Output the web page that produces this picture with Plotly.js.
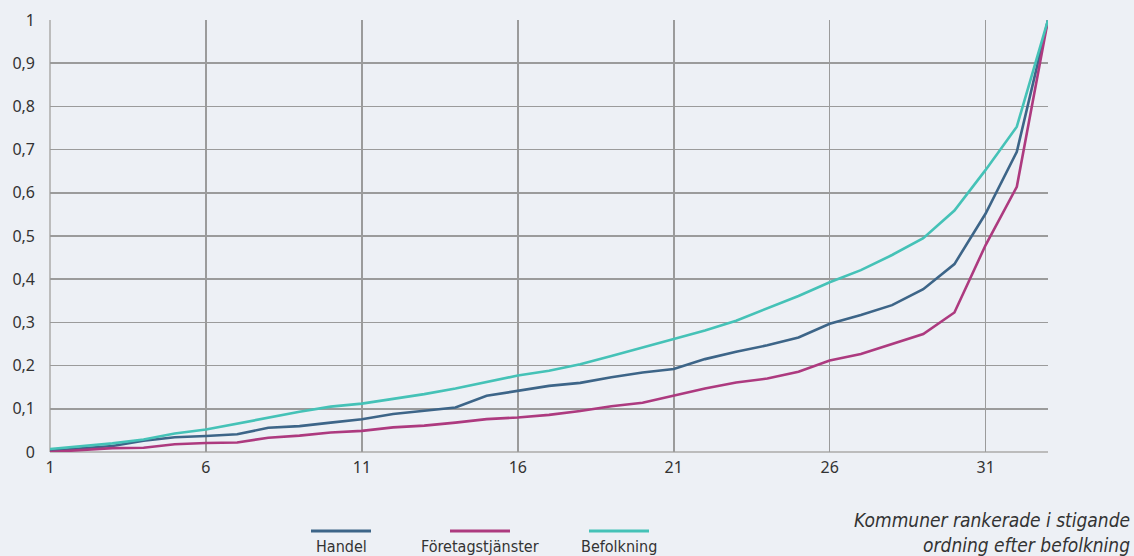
<!DOCTYPE html>
<html>
<head>
<meta charset="utf-8">
<script src="https://cdn.plot.ly/plotly-3.0.1.min.js"></script>
<style>
html,body{margin:0;padding:0;background:#edf0f5;}
#chart{width:1134px;height:556px;}
</style>
</head>
<body>
<div id="chart"></div>
<script>
const ranks = Array.from({length: 33}, (_, i) => i + 1);
const seriesNames = ["Handel", "Företagstjänster", "Befolkning"];
const seriesColors = ["#3d6588", "#ad3a7f", "#45c2b7"];
const handel = [0.003, 0.009, 0.014, 0.026, 0.034, 0.037, 0.041, 0.056, 0.060, 0.068, 0.076, 0.088, 0.095, 0.103, 0.130, 0.141, 0.153, 0.160, 0.173, 0.184, 0.192, 0.215, 0.232, 0.247, 0.265, 0.297, 0.317, 0.340, 0.377, 0.435, 0.552, 0.695, 1.0];
const foretag = [0.0, 0.005, 0.009, 0.010, 0.018, 0.021, 0.022, 0.033, 0.038, 0.045, 0.049, 0.057, 0.061, 0.068, 0.076, 0.080, 0.086, 0.095, 0.106, 0.114, 0.130, 0.147, 0.161, 0.170, 0.186, 0.212, 0.227, 0.250, 0.273, 0.323, 0.479, 0.614, 1.0];
const befolkning = [0.007, 0.014, 0.020, 0.029, 0.043, 0.052, 0.066, 0.080, 0.093, 0.105, 0.112, 0.123, 0.134, 0.147, 0.162, 0.177, 0.188, 0.203, 0.222, 0.242, 0.262, 0.281, 0.304, 0.333, 0.361, 0.393, 0.421, 0.456, 0.495, 0.559, 0.653, 0.753, 1.0];
const seriesValues = [handel, foretag, befolkning];
const xTickVals = [1, 6, 11, 16, 21, 26, 31];
const yTickVals = [0, 0.1, 0.2, 0.3, 0.4, 0.5, 0.6, 0.7, 0.8, 0.9, 1];
const yTickText = ["0", "0,1", "0,2", "0,3", "0,4", "0,5", "0,6", "0,7", "0,8", "0,9", "1"];
const xTitle = "Kommuner rankerade i stigande<br>ordning efter befolkning";

const tickFont = {family: "Noto Sans, Open Sans, sans-serif", size: 16, color: "#333"};
const narrowFont = "DejaVu Sans Condensed, Liberation Sans Narrow, sans-serif";

const traces = seriesValues.map((vals, i) => ({
  x: ranks, y: vals, type: "scatter", mode: "lines", name: seriesNames[i],
  line: {color: seriesColors[i], width: 2.6}, showlegend: false
}));

const legendCenters = [341, 480, 619];
const W = 1134, H = 556;
const shapes = [];
const annotations = [];
legendCenters.forEach((cx, i) => {
  shapes.push({type: "line", xref: "paper", yref: "paper",
    x0: (cx - 30 - 50) / (1048 - 50), x1: (cx + 30 - 50) / (1048 - 50),
    y0: (452 - 531) / 432, y1: (452 - 531) / 432,
    line: {color: seriesColors[i], width: 3}});
  annotations.push({xref: "paper", yref: "paper",
    x: (cx - 50) / (1048 - 50), y: (452 - 546) / 432,
    text: seriesNames[i], showarrow: false, xanchor: "center", yanchor: "middle",
    font: {family: narrowFont, size: 16, color: "#333"}});
});
annotations.push({xref: "paper", yref: "paper", x: (1132 - 50) / (1048 - 50), y: (452 - 532) / 432,
  text: "<i>" + xTitle + "</i>", showarrow: false, xanchor: "right", yanchor: "middle", align: "right",
  font: {family: narrowFont, size: 19, color: "#333"}});

const layout = {
  width: W, height: H,
  paper_bgcolor: "#edf0f5", plot_bgcolor: "#edf0f5",
  margin: {l: 50, r: 86, t: 20, b: 104},
  showlegend: false,
  xaxis: {
    range: [1, 33], tickvals: xTickVals, ticktext: xTickVals.map(String),
    showgrid: true, gridcolor: "#9b9b9b", gridwidth: 1.5,
    zeroline: false, showline: false, ticks: "", tickfont: tickFont,
    ticklabelstandoff: 4, fixedrange: true
  },
  yaxis: {
    range: [0, 1], tickvals: yTickVals, ticktext: yTickText,
    showgrid: true, gridcolor: "#9b9b9b", gridwidth: 1.5,
    zeroline: false, showline: false, ticks: "", tickfont: tickFont,
    ticklabelstandoff: 14, fixedrange: true
  },
  shapes: [
    {type: "line", xref: "paper", yref: "paper", x0: 0, x1: 1, y0: 0, y1: 0, line: {color: "#bcbcbc", width: 2}, layer: "below"},
    {type: "line", xref: "paper", yref: "paper", x0: 0, x1: 0, y0: 0, y1: 1, line: {color: "#bcbcbc", width: 2}, layer: "below"}
  ].concat(shapes),
  annotations: annotations
};

Plotly.newPlot("chart", traces, layout, {displayModeBar: false, staticPlot: true});
</script>
</body>
</html>
